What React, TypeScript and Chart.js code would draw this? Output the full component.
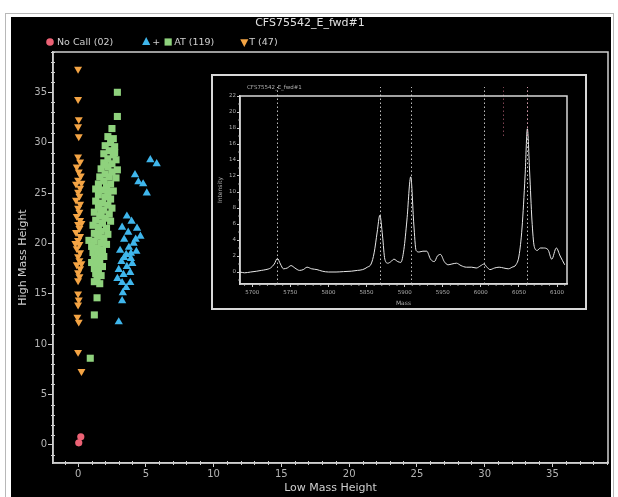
import React, { useEffect, useRef } from 'react';
import { Chart, registerables } from 'chart.js';

Chart.register(...registerables);

// ---------- texts ----------
const TITLE = 'CFS75542_E_fwd#1';
const X_TITLE = 'Low Mass Height';
const Y_TITLE = 'High Mass Height';
const INSET_TITLE = 'CFS75542_E_fwd#1';
const INSET_X_TITLE = 'Mass';
const INSET_Y_TITLE = 'Intensity';
const NO_CALL_LABEL = 'No Call (02)';
const PLUS_LABEL = '+';
const AT_LABEL = 'AT (119)';
const T_LABEL = 'T (47)';

// ---------- main scatter data [lowMass, highMass] ----------
const noCallPoints: [number, number][] = [
  [0.05, 0.2], [0.2, 0.8],
];

const tPoints: [number, number][] = [
  [0.0, 37.3], [0.0, 34.3], [0.05, 32.3], [0.0, 31.6], [0.05, 30.6],
  [0.0, 28.6], [0.15, 28.1], [-0.1, 27.6], [0.05, 27.1], [0.2, 26.7],
  [0.0, 26.3], [-0.15, 25.9], [0.15, 25.5], [0.0, 25.1], [0.1, 24.7],
  [-0.15, 24.3], [0.15, 23.9], [0.0, 23.5], [0.1, 23.1], [-0.1, 22.7],
  [0.15, 22.3], [0.0, 21.9], [0.1, 21.5], [-0.15, 21.1], [0.15, 20.7],
  [0.0, 20.3], [0.1, 19.9], [-0.1, 19.5], [0.15, 19.1], [0.0, 18.7],
  [0.1, 18.3], [-0.1, 17.9], [0.15, 17.5], [0.0, 17.1], [0.1, 16.7],
  [0.0, 16.3], [0.25, 26.0], [0.25, 22.0], [-0.2, 20.0], [0.25, 18.0],
  [0.0, 15.0], [0.05, 14.4], [0.0, 13.9], [-0.05, 12.7], [0.05, 12.2],
  [0.0, 9.2], [0.25, 7.3],
];

const atSquarePoints: [number, number][] = [
  [2.9, 35.0], [2.9, 32.6], [2.5, 31.4],
  [2.2, 30.6], [2.6, 30.4], [2.4, 30.0], [2.0, 29.7], [2.7, 29.6],
  [2.3, 29.2], [1.9, 28.9], [2.6, 28.8], [2.2, 28.4], [2.8, 28.3], [1.9, 28.0], [2.5, 27.9],
  [2.2, 27.6], [1.7, 27.4], [2.9, 27.3], [2.5, 27.1], [2.0, 26.9], [1.6, 26.6], [2.3, 26.6], [2.8, 26.5],
  [1.9, 26.2], [1.5, 25.9], [2.4, 25.9], [2.1, 25.6], [1.3, 25.4], [1.8, 25.3], [2.6, 25.2], [2.2, 25.0],
  [1.5, 24.8], [2.0, 24.6], [2.4, 24.4], [1.3, 24.2], [1.8, 24.0], [2.2, 23.8], [1.5, 23.6], [2.5, 23.5],
  [1.9, 23.3], [1.2, 23.1], [2.3, 22.9], [1.6, 22.7], [2.0, 22.5], [1.3, 22.3], [2.4, 22.2], [1.8, 22.0],
  [1.1, 21.8], [1.5, 21.6], [2.1, 21.5], [1.7, 21.2], [1.2, 21.0], [2.2, 20.9], [1.5, 20.7], [1.9, 20.5],
  [0.8, 20.3], [1.2, 20.2], [1.7, 20.0], [2.1, 19.9], [1.0, 19.7], [1.4, 19.5], [1.8, 19.3], [1.1, 19.1],
  [1.5, 18.9], [1.9, 18.7], [1.2, 18.5], [1.6, 18.3], [1.0, 18.1], [1.4, 17.9], [1.8, 17.7], [1.2, 17.5],
  [1.5, 17.3], [1.3, 17.0], [1.7, 16.8], [1.4, 16.5], [1.2, 16.2], [1.6, 16.0],
  [2.7, 29.0], [2.0, 27.8], [1.7, 23.0], [1.4, 20.9],
  [1.4, 14.6], [1.2, 12.9], [0.9, 8.6],
];

const atTrianglePoints: [number, number][] = [
  [5.33, 28.3], [5.8, 27.9], [4.2, 26.8], [4.45, 26.1], [4.8, 25.9], [5.07, 25.0],
  [3.6, 22.7], [3.95, 22.2], [3.25, 21.6], [4.35, 21.5], [3.7, 21.1], [4.6, 20.7],
  [3.4, 20.4], [4.1, 20.0], [3.75, 19.6], [3.1, 19.3], [4.3, 19.2], [3.55, 18.9],
  [3.9, 18.5], [3.2, 18.2], [4.0, 18.0], [3.6, 17.7], [3.0, 17.4], [3.85, 17.1],
  [3.35, 16.9], [2.9, 16.5], [3.25, 16.1], [3.85, 16.1], [3.55, 15.6], [3.3, 15.1],
  [3.25, 14.3], [3.0, 12.2], [3.9, 19.0], [3.4, 18.6], [4.25, 20.4],
];

// ---------- inset spectrum ----------
const spectrumMass = [
  5684, 5690, 5698, 5706, 5712, 5718, 5724, 5729, 5733, 5737, 5741, 5746, 5751, 5756,
  5762, 5767, 5772, 5778, 5785, 5792, 5800, 5810, 5820, 5830, 5838, 5845, 5851, 5856,
  5860, 5864, 5867.5, 5871, 5874, 5878, 5882, 5886, 5891, 5895, 5899, 5903, 5908, 5912,
  5915, 5919, 5924, 5929, 5934, 5939, 5943, 5947, 5952, 5957, 5962, 5968, 5974, 5981,
  5988, 5994, 6000, 6004, 6008, 6012, 6018, 6024, 6030, 6036, 6041, 6046, 6050, 6054,
  6058, 6061, 6064, 6067, 6070, 6074, 6078, 6082, 6088, 6093, 6099, 6104, 6110,
];
const spectrumIntensity = [
  0.0, -0.1, 0.0, 0.1, 0.2, 0.3, 0.5, 1.0, 1.7, 1.0, 0.4, 0.5, 0.8, 0.5,
  0.2, 0.3, 0.6, 0.4, 0.3, 0.1, 0.0, 0.0, 0.05, 0.1, 0.2, 0.3, 0.6, 1.0,
  2.4, 5.0, 7.1, 4.5, 1.6, 1.1, 1.3, 1.6, 1.3, 1.2, 2.8, 6.5, 11.9, 6.0,
  2.7, 2.5, 2.6, 2.6, 1.6, 1.3, 2.0, 2.2, 1.3, 0.9, 1.0, 1.1, 0.8, 0.6,
  0.6, 0.5, 0.8, 1.0, 0.6, 0.3, 0.5, 0.6, 0.5, 0.4, 0.6, 0.9, 2.0, 5.5,
  12.0, 17.9, 12.5, 6.5, 3.2, 2.7, 3.0, 3.0, 2.8, 1.6, 3.0, 2.0, 0.9,
];
const markerMasses = [5733, 5867.5, 5908, 6004, 6061];
const highlightMasses = [6029, 6061];

// ---------- styles ----------
const FONT = 'DejaVu Sans';
const AXIS = '#cfcfcf';
const TICK_TEXT = '#b4b4b4';
const RED = '#ec6275';
const BLUE = '#3fb6ec';
const GREEN = '#8fd27d';
const ORANGE = '#f4a444';

type Sym = 'circle' | 'triangle' | 'triangleDown' | 'square';

function drawSymbol(ctx: CanvasRenderingContext2D, kind: Sym, x: number, y: number, r: number, color: string) {
  ctx.fillStyle = color;
  ctx.beginPath();
  if (kind === 'circle') {
    ctx.arc(x, y, r, 0, Math.PI * 2);
  } else if (kind === 'square') {
    ctx.rect(x - r, y - r, 2 * r, 2 * r);
  } else {
    const d = kind === 'triangle' ? 1 : -1;
    ctx.moveTo(x, y - d * r);
    ctx.lineTo(x + r * 0.9, y + d * r * 0.75);
    ctx.lineTo(x - r * 0.9, y + d * r * 0.75);
    ctx.closePath();
  }
  ctx.fill();
}

const mainDecor = {
  id: 'mainDecor',
  afterDraw(chart: any) {
    const { ctx, chartArea: a, scales } = chart;
    const xs = scales.x;
    const ys = scales.y;
    ctx.save();
    ctx.strokeStyle = AXIS;
    ctx.lineWidth = 1.5;
    ctx.strokeRect(a.left, a.top, a.right - a.left, a.bottom - a.top);
    ctx.lineWidth = 1;
    ctx.beginPath();
    for (let v = Math.ceil(xs.min); v <= xs.max; v++) {
      if (v % 5 === 0) continue;
      const px = Math.round(xs.getPixelForValue(v)) + 0.5;
      ctx.moveTo(px, a.bottom - 2);
      ctx.lineTo(px, a.bottom + 2);
    }
    for (let v = Math.ceil(ys.min); v <= ys.max; v++) {
      if (v % 5 === 0) continue;
      const py = Math.round(ys.getPixelForValue(v)) + 0.5;
      ctx.moveTo(a.left - 2, py);
      ctx.lineTo(a.left + 2, py);
    }
    ctx.stroke();

    // legend
    ctx.font = `9.5px "${FONT}"`;
    ctx.textBaseline = 'middle';
    ctx.textAlign = 'left';
    const y = a.top - 10;
    let x = a.left - 3;
    const text = (t: string) => {
      ctx.fillStyle = '#d0d0d0';
      ctx.fillText(t, x, y + 0.5);
      x += ctx.measureText(t).width;
    };
    drawSymbol(ctx, 'circle', x, y, 3.8, RED);
    x += 7;
    text(NO_CALL_LABEL);
    x += 33;
    drawSymbol(ctx, 'triangle', x, y - 0.5, 4.5, BLUE);
    x += 6;
    text(PLUS_LABEL);
    x += 8;
    drawSymbol(ctx, 'square', x, y, 3.6, GREEN);
    x += 6;
    text(AT_LABEL);
    x += 30;
    drawSymbol(ctx, 'triangleDown', x, y + 0.5, 4.5, ORANGE);
    x += 5;
    text(T_LABEL);
    ctx.restore();
  },
};

const insetDecor = {
  id: 'insetDecor',
  afterDraw(chart: any) {
    const { ctx, chartArea: a, scales } = chart;
    const xs = scales.x;
    const ys = scales.y;
    ctx.save();
    // marker lines
    ctx.lineWidth = 1;
    ctx.setLineDash([1.5, 2.5]);
    ctx.strokeStyle = '#bdbdbd';
    ctx.beginPath();
    markerMasses.forEach((m) => {
      const px = Math.round(xs.getPixelForValue(m)) + 0.5;
      ctx.moveTo(px, a.bottom);
      ctx.lineTo(px, a.top - 9);
    });
    ctx.stroke();
    ctx.strokeStyle = 'rgba(230,120,150,0.55)';
    ctx.beginPath();
    highlightMasses.forEach((m) => {
      const px = Math.round(xs.getPixelForValue(m)) + 0.5;
      ctx.moveTo(px, a.top + 40);
      ctx.lineTo(px, a.top - 9);
    });
    ctx.stroke();
    ctx.setLineDash([]);
    // frame
    ctx.strokeStyle = '#d8d8d8';
    ctx.lineWidth = 1.5;
    ctx.strokeRect(a.left, a.top, a.right - a.left, a.bottom - a.top);
    // minor ticks
    ctx.lineWidth = 0.8;
    ctx.strokeStyle = '#bbbbbb';
    ctx.beginPath();
    for (let v = Math.ceil(xs.min / 10) * 10; v <= xs.max; v += 10) {
      if (v % 50 === 0) continue;
      const px = xs.getPixelForValue(v);
      ctx.moveTo(px, a.bottom);
      ctx.lineTo(px, a.bottom + 2);
    }
    for (let v = Math.ceil(ys.min); v <= ys.max; v++) {
      if (v % 2 === 0) continue;
      const py = ys.getPixelForValue(v);
      ctx.moveTo(a.left - 2, py);
      ctx.lineTo(a.left, py);
    }
    ctx.stroke();
    // inset title
    ctx.font = `5.5px "${FONT}"`;
    ctx.fillStyle = '#b0b0b0';
    ctx.textBaseline = 'middle';
    ctx.fillText(INSET_TITLE, a.left + 7, a.top - 8);
    ctx.restore();
  },
};

const plainLabel = (v: any) => String(v);

export default function App() {
  const mainRef = useRef<HTMLCanvasElement | null>(null);
  const insetRef = useRef<HTMLCanvasElement | null>(null);

  useEffect(() => {
    const toXY = (pts: [number, number][]) => pts.map(([x, y]) => ({ x, y }));
    const main = new Chart(mainRef.current as HTMLCanvasElement, {
      type: 'scatter',
      data: {
        datasets: [
          { label: T_LABEL, data: toXY(tPoints), pointStyle: 'triangle', rotation: 180, pointRadius: 4.6, backgroundColor: ORANGE, borderColor: ORANGE, borderWidth: 0 },
          { label: AT_LABEL, data: toXY(atSquarePoints), pointStyle: 'rect', pointRadius: 5, backgroundColor: GREEN, borderColor: GREEN, borderWidth: 0 },
          { label: PLUS_LABEL, data: toXY(atTrianglePoints), pointStyle: 'triangle', pointRadius: 4.8, backgroundColor: BLUE, borderColor: BLUE, borderWidth: 0 },
          { label: NO_CALL_LABEL, data: toXY(noCallPoints), pointStyle: 'circle', pointRadius: 3.6, backgroundColor: RED, borderColor: RED, borderWidth: 0 },
        ],
      } as any,
      options: {
        responsive: false,
        animation: false,
        events: [],
        layout: { padding: { left: 12, right: 10, top: 0, bottom: 0 } },
        plugins: {
          legend: { display: false },
          tooltip: { enabled: false },
          title: {
            display: true,
            text: TITLE,
            color: '#e2e2e2',
            font: { family: FONT, size: 11, weight: 'normal' },
            padding: { top: 16.4, bottom: 22.4 },
          },
        },
        scales: {
          x: {
            type: 'linear',
            min: -1.85,
            max: 39.1,
            afterFit: (s: any) => { s.height = 34; },
            border: { display: true, color: AXIS, width: 1.5 },
            grid: { drawOnChartArea: false, drawTicks: true, tickLength: 4, tickColor: AXIS, tickWidth: 1 },
            ticks: { stepSize: 5, includeBounds: false, color: TICK_TEXT, font: { family: FONT, size: 10 }, padding: 1, maxRotation: 0, callback: plainLabel },
            title: { display: true, text: X_TITLE, color: AXIS, font: { family: FONT, size: 11 }, padding: { top: 0, bottom: 2 } },
          },
          y: {
            type: 'linear',
            min: -1.8,
            max: 39,
            afterFit: (s: any) => { s.width = 41; },
            border: { display: true, color: AXIS, width: 1.5 },
            grid: { drawOnChartArea: false, drawTicks: true, tickLength: 5, tickColor: AXIS, tickWidth: 1 },
            ticks: { stepSize: 5, includeBounds: false, color: TICK_TEXT, font: { family: FONT, size: 10 }, padding: 1, callback: plainLabel },
            title: { display: true, text: Y_TITLE, color: AXIS, font: { family: FONT, size: 11 }, padding: { top: 5, bottom: 0 } },
          },
        },
      } as any,
      plugins: [mainDecor],
    });

    const inset = new Chart(insetRef.current as HTMLCanvasElement, {
      type: 'line',
      data: {
        datasets: [
          {
            label: INSET_Y_TITLE,
            data: spectrumMass.map((m, i) => ({ x: m, y: spectrumIntensity[i] })),
            borderColor: '#e8e8e8',
            borderWidth: 1,
            pointRadius: 0,
            fill: false,
            cubicInterpolationMode: 'monotone',
          },
        ],
      } as any,
      options: {
        responsive: false,
        animation: false,
        events: [],
        layout: { padding: { left: 3, right: 18, top: 20, bottom: 0 } },
        plugins: { legend: { display: false }, tooltip: { enabled: false }, title: { display: false } },
        scales: {
          x: {
            type: 'linear',
            min: 5684,
            max: 6113,
            afterFit: (s: any) => { s.height = 24; },
            border: { display: true, color: '#d8d8d8', width: 1.5 },
            grid: { drawOnChartArea: false, drawTicks: true, tickLength: 3, tickColor: '#cccccc', tickWidth: 1 },
            ticks: { stepSize: 50, includeBounds: false, color: '#b0b0b0', font: { family: FONT, size: 5.5 }, padding: 2, maxRotation: 0, autoSkip: false, callback: plainLabel },
            title: { display: true, text: INSET_X_TITLE, color: '#b0b0b0', font: { family: FONT, size: 6 }, padding: { top: 0, bottom: 1.4 } },
          },
          y: {
            type: 'linear',
            min: -1.5,
            max: 22,
            afterFit: (s: any) => { s.width = 24; },
            border: { display: true, color: '#d8d8d8', width: 1.5 },
            grid: { drawOnChartArea: false, drawTicks: true, tickLength: 3, tickColor: '#cccccc', tickWidth: 1 },
            ticks: { stepSize: 2, includeBounds: false, color: '#b0b0b0', font: { family: FONT, size: 5.5 }, padding: 1, autoSkip: false, callback: plainLabel },
            title: { display: true, text: INSET_Y_TITLE, color: '#b0b0b0', font: { family: FONT, size: 6 }, padding: { top: 0.5, bottom: 0 } },
          },
        },
      } as any,
      plugins: [insetDecor],
    });

    return () => {
      main.destroy();
      inset.destroy();
    };
  }, []);

  return (
    <div style={{ position: 'absolute', left: 0, top: 0, width: 618, height: 497, background: '#ffffff', overflow: 'hidden' }}>
      <div style={{ position: 'absolute', left: 5, top: 13, width: 609, height: 500, border: '1px solid #b8b8b8', boxSizing: 'border-box' }} />
      <div style={{ position: 'absolute', left: 11, top: 17, width: 600, height: 480, background: '#000000' }} />
      <canvas ref={mainRef} width={618} height={497} style={{ position: 'absolute', left: 0, top: 0, width: 618, height: 497 }} />
      <div style={{ position: 'absolute', left: 211, top: 74, width: 372, height: 232, border: '2px solid #d8d8d8', background: '#000000' }}>
        <canvas ref={insetRef} width={372} height={232} style={{ display: 'block', width: 372, height: 232 }} />
      </div>
    </div>
  );
}
